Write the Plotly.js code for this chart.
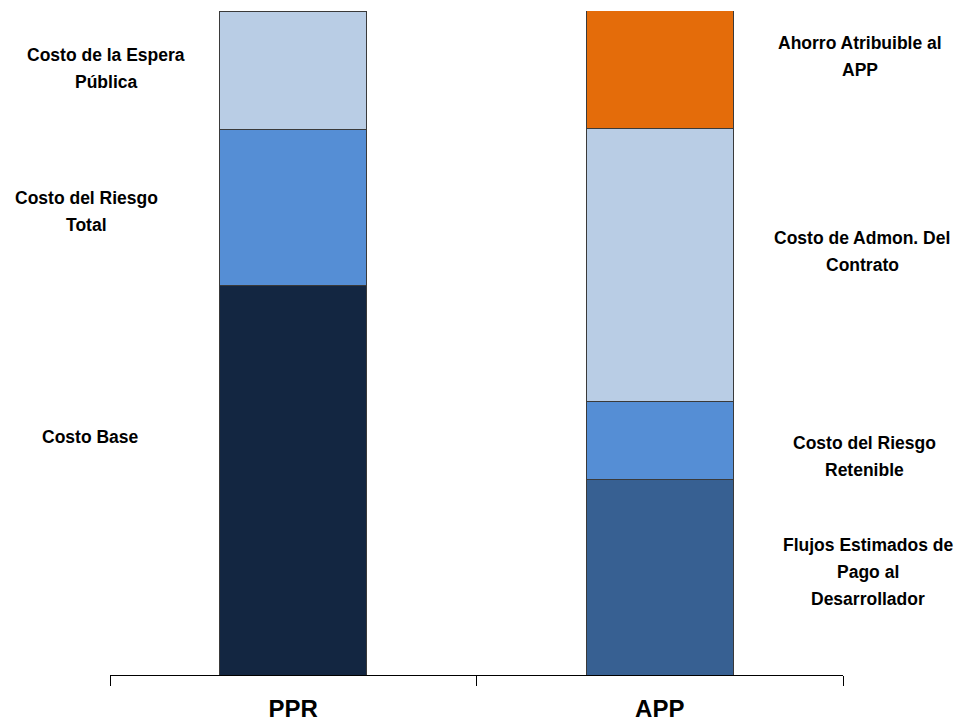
<!DOCTYPE html>
<html>
<head>
<meta charset="utf-8">
<script src="https://cdn.plot.ly/plotly-3.0.1.min.js"></script>
<style>
  html, body { margin: 0; padding: 0; background: #ffffff; }
  #chart { width: 963px; height: 723px; }
</style>
</head>
<body>
<div id="chart"></div>
<script>
// ---- Data (share of the PPR total = 100) ----
const categories = ["PPR", "APP"];

const seriesNames = [
  "Costo Base",
  "Flujos Estimados de Pago al Desarrollador",
  "Costo del Riesgo Total",
  "Costo del Riesgo Retenible",
  "Costo de Admon. Del Contrato",
  "Costo de la Espera Pública",
  "Ahorro Atribuible al APP"
];
// one value per category [PPR, APP]
const costoBase        = [58.7, null];
const flujosEstimados  = [null, 29.4];
const riesgoTotal      = [23.5, null];
const riesgoRetenible  = [null, 11.8];
const admonContrato    = [null, 41.1];
const esperaPublica    = [17.8, null];
const ahorroAPP        = [null, 17.8];

// label lines (text only)
const labelLines = [
  ["Costo de la Espera", "Pública"],
  ["Costo del Riesgo", "Total"],
  ["Costo Base"],
  ["Ahorro Atribuible al", "APP"],
  ["Costo de Admon. Del", "Contrato"],
  ["Costo del Riesgo", "Retenible"],
  ["Flujos Estimados de", "Pago al", "Desarrollador"]
];

// ---- Styles / positions ----
const seriesValues = [costoBase, flujosEstimados, riesgoTotal, riesgoRetenible, admonContrato, esperaPublica, ahorroAPP];
const seriesColors = ["#132641", "#376092", "#558ED5", "#558ED5", "#B9CDE5", "#B9CDE5", "#E46C0A"];

// label block placement in pixels (center x, center y of first line)
const labelPlace = [
  [106, 55], [86, 198], [90, 437],
  [860, 43], [862, 238], [865, 443], [868, 545]
];
const lineStep = 27;

const W = 963, H = 723;
const M = {l: 110, r: 120, t: 11, b: 48};
const plotW = W - M.l - M.r, plotH = H - M.t - M.b;

const FONT = "'Liberation Sans', Arial, sans-serif";

const traces = seriesValues.map((vals, i) => ({
  type: "bar",
  name: seriesNames[i],
  x: categories,
  y: vals,
  marker: {color: seriesColors[i], line: {color: "#3a3a3a", width: 1}},
  hoverinfo: "name+y"
}));

const annotations = [];
labelLines.forEach((lines, i) => {
  const [cx, cy] = labelPlace[i];
  lines.forEach((t, j) => {
    annotations.push({
      xref: "paper", yref: "paper",
      x: (cx - M.l) / plotW,
      y: (H - M.b - (cy + j * lineStep)) / plotH,
      xanchor: "center", yanchor: "middle",
      text: "<b>" + t + "</b>",
      showarrow: false,
      font: {family: FONT, size: 17.5, color: "#000000"}
    });
  });
});

const layout = {
  width: W, height: H,
  margin: M,
  barmode: "stack",
  bargap: 0.6,
  showlegend: false,
  paper_bgcolor: "#ffffff",
  plot_bgcolor: "#ffffff",
  xaxis: {
    type: "category",
    range: [-0.5, 1.5],
    showline: true, linecolor: "#000000", linewidth: 1,
    ticks: "outside", tickson: "boundaries", ticklen: 10, tickcolor: "#000000", tickwidth: 1,
    ticklabelstandoff: 12,
    showgrid: false, zeroline: false,
    tickfont: {family: FONT, size: 24, color: "#000000", weight: "bold"}
  },
  yaxis: {range: [0, 100], visible: false, showgrid: false, zeroline: false},
  annotations: annotations
};

Plotly.newPlot("chart", traces, layout, {displayModeBar: false, staticPlot: true});
</script>
</body>
</html>
